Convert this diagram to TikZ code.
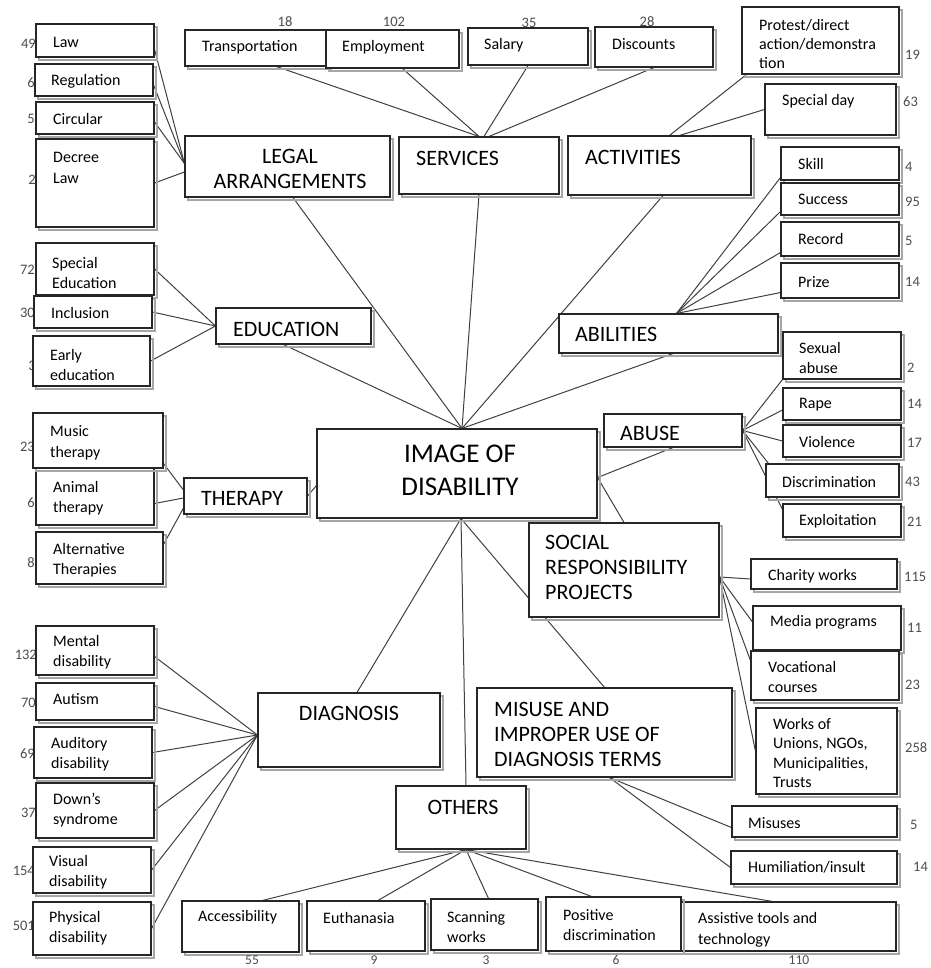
\documentclass[tikz,border=0pt]{standalone}
\usepackage{fontspec}
\setmainfont{Carlito}[Numbers=Lining]
\usetikzlibrary{fit,shadows}
\pgfdeclarelayer{background}
\pgfsetlayers{background,main}
\begin{document}
\begin{tikzpicture}[x=1pt,y=-1pt,
 box/.style={draw=black!85, line width=1.1pt, fill=white, inner sep=0pt,
   copy shadow={shadow xshift=3pt, shadow yshift=-3pt, draw=black!35, fill=none, line width=1.2pt}},
 txt/.style={inner sep=0pt, anchor=west, align=left, font=\fontsize{16}{20.5}\selectfont},
 big/.style={inner sep=0pt, anchor=west, align=left, font=\fontsize{22}{25}\selectfont},
 num/.style={inner sep=0pt, font=\fontsize{14.5}{16}\selectfont, text=black!70},
 lnum/.style={num, anchor=east},
 rnum/.style={num, anchor=west},
 bnum/.style={num, anchor=base, font=\fontsize{13.5}{15}\selectfont},
 link/.style={draw=black!75, line width=1pt}]
\useasboundingbox (0,0) rectangle (930,968);

% ---------- counts (drawn first, boxes may cover them) ----------
\node[lnum] (n-law) at (36,44) {49};
\node[lnum] (n-reg) at (35,83) {6};
\node[lnum] (n-circ) at (35,119) {5};
\node[lnum] (n-decree) at (36,180) {2};
\node[lnum] (n-specedu) at (35,270) {72};
\node[lnum] (n-incl) at (35,313) {30};
\node[lnum] (n-early) at (36,366) {3};
\node[lnum] (n-music) at (35,447) {23};
\node[lnum] (n-animal) at (35,503) {6};
\node[lnum] (n-alt) at (35,563) {8};
\node[lnum] (n-mental) at (37,655) {132};
\node[lnum] (n-autism) at (36,703) {70};
\node[lnum] (n-auditory) at (35,754) {69};
\node[lnum] (n-down) at (36,813) {37};
\node[lnum] (n-visual) at (35,871) {154};
\node[lnum] (n-physical) at (35,926) {501};
\node[rnum] (n-protest) at (905,55) {19};
\node[rnum] (n-specday) at (903,102) {63};
\node[rnum] (n-skill) at (905,167) {4};
\node[rnum] (n-success) at (905,202) {95};
\node[rnum] (n-record) at (905,241) {5};
\node[rnum] (n-prize) at (905,282) {14};
\node[rnum] (n-sexual) at (907,368) {2};
\node[rnum] (n-rape) at (907,404) {14};
\node[rnum] (n-violence) at (907,443) {17};
\node[rnum] (n-discrim) at (905,482) {43};
\node[rnum] (n-exploit) at (907,522) {21};
\node[rnum] (n-charity) at (904,577) {115};
\node[rnum] (n-media) at (907,628) {11};
\node[rnum] (n-voc) at (905,685) {23};
\node[rnum] (n-works) at (905,748) {258};
\node[rnum] (n-misuses) at (910,825) {5};
\node[rnum] (n-humil) at (913,867) {14};
\node[num] (n-trans) at (285,22) {18};
\node[num] (n-emp) at (394,22) {102};
\node[num] (n-salary) at (529,23) {35};
\node[num] (n-disc) at (647,22) {28};

% ---------- boxes ----------
\node[box, fit={(36,24) (154,57)}] (law) {};
\node[box, fit={(35,64) (153,96)}] (reg) {};
\node[box, fit={(36,102) (154,134)}] (circ) {};
\node[box, fit={(36,139) (154,227)}] (decree) {};
\node[box, fit={(185,136) (390,197)}] (legal) {};
\node[box, fit={(185,30) (328,66)}] (trans) {};
\node[box, fit={(326,30) (459,68)}] (emp) {};
\node[box, fit={(468,28) (588,65)}] (salary) {};
\node[box, fit={(595,27) (713,67)}] (disc) {};
\node[box, fit={(742,7) (899,74)}] (protest) {};
\node[box, fit={(765,84) (896,135)}] (specday) {};
\node[box, fit={(399,137) (559,194)}] (services) {};
\node[box, fit={(568,136) (751,195)}] (activ) {};
\node[box, fit={(781,147) (899,180)}] (skill) {};
\node[box, fit={(781,183) (899,215)}] (success) {};
\node[box, fit={(781,222) (899,256)}] (record) {};
\node[box, fit={(781,263) (899,298)}] (prize) {};
\node[box, fit={(559,314) (778,353)}] (abil) {};
\node[box, fit={(783,332) (901,379)}] (sexual) {};
\node[box, fit={(783,388) (901,420)}] (rape) {};
\node[box, fit={(783,425) (901,457)}] (violence) {};
\node[box, fit={(766,464) (899,497)}] (discrim) {};
\node[box, fit={(783,504) (901,537)}] (exploit) {};
\node[box, fit={(604,414) (742,447)}] (abuse) {};
\node[box, fit={(317,429) (597,518)}] (image) {};
\node[box, fit={(529,523) (719,617)}] (social) {};
\node[box, fit={(751,559) (897,589)}] (charity) {};
\node[box, fit={(753,606) (901,650)}] (media) {};
\node[box, fit={(751,651) (899,700)}] (voc) {};
\node[box, fit={(756,708) (897,794)}] (works) {};
\node[box, fit={(477,688) (732,777)}] (misuse) {};
\node[box, fit={(732,806) (897,837)}] (misuses) {};
\node[box, fit={(731,851) (897,884)}] (humil) {};
\node[box, fit={(396,786) (526,849)}] (others) {};
\node[box, fit={(258,693) (440,767)}] (diag) {};
\node[box, fit={(36,626) (154,675)}] (mental) {};
\node[box, fit={(36,683) (154,720)}] (autism) {};
\node[box, fit={(34,727) (152,778)}] (auditory) {};
\node[box, fit={(36,783) (154,838)}] (down) {};
\node[box, fit={(33,847) (151,893)}] (visual) {};
\node[box, fit={(33,902) (151,955)}] (physical) {};
\node[box, fit={(182,901) (299,952)}] (access) {};
\node[box, fit={(307,901) (425,951)}] (euth) {};
\node[box, fit={(431,899) (538,950)}] (scan) {};
\node[box, fit={(681,902) (896,951)}] (assist) {};
\node[box, fit={(546,897) (681,951)}] (posit) {};
\node[box, fit={(36,243) (154,295)}] (specedu) {};
\node[box, fit={(34,296) (152,328)}] (incl) {};
\node[box, fit={(33,336) (150,386)}] (early) {};
\node[box, fit={(216,308) (371,344)}] (educ) {};
\node[box, fit={(36,468) (154,525)}] (animal) {};
\node[box, fit={(33,413) (163,468)}] (music) {};
\node[box, fit={(36,532) (163,584)}] (alt) {};
\node[box, fit={(184,478) (307,514)}] (therapy) {};

% ---------- bottom counts ----------
\node[bnum] (n-access) at (252,964.5) {55};
\node[bnum] (n-euth) at (374,964.5) {9};
\node[bnum] (n-scan) at (486,964.5) {3};
\node[bnum] (n-posit) at (616,964.5) {6};
\node[bnum] (n-assist) at (799,964.5) {110};

% ---------- texts ----------
\node[txt] (law-t) at (53,42) {Law};
\node[txt] (reg-t) at (51,81) {Regulation};
\node[txt] (circ-t) at (53,119) {Circular};
\node[txt] (decree-t) at (53,168) {Decree\\Law};
\node[txt] (trans-t) at (202,47) {Transportation};
\node[txt] (emp-t) at (342,47) {Employment};
\node[txt] (salary-t) at (484,45) {Salary};
\node[txt] (disc-t) at (612,44) {Discounts};
\node[txt, font=\fontsize{16}{19}\selectfont] (protest-t) at (759,44) {Protest/direct\\action/demonstra\\tion};
\node[txt] (specday-t) at (782,101) {Special day};
\node[big, anchor=center, align=center] (legal-t) at (290,169) {LEGAL\\ARRANGEMENTS};
\node[big] (services-t) at (416,158) {SERVICES};
\node[big] (activ-t) at (585,157) {ACTIVITIES};
\node[txt] (skill-t) at (798,164) {Skill};
\node[txt] (success-t) at (798,199) {Success};
\node[txt] (record-t) at (798,239) {Record};
\node[txt] (prize-t) at (798,282) {Prize};
\node[big] (abil-t) at (575,334) {ABILITIES};
\node[txt] (sexual-t) at (799,358) {Sexual\\abuse};
\node[txt] (rape-t) at (799,405) {Rape};
\node[txt] (violence-t) at (799,442) {Violence};
\node[txt] (discrim-t) at (782,482) {Discrimination};
\node[txt] (exploit-t) at (799,521) {Exploitation};
\node[big] (abuse-t) at (620,433) {ABUSE};
\node[inner sep=0pt, align=center, font=\fontsize{27}{33}\selectfont] (image-t) at (460,470) {IMAGE OF\\DISABILITY};
\node[big] (social-t) at (545,567) {SOCIAL\\RESPONSIBILITY\\PROJECTS};
\node[txt] (charity-t) at (768,576) {Charity works};
\node[txt] (media-t) at (770,622) {Media programs};
\node[txt] (voc-t) at (768,677) {Vocational\\courses};
\node[txt, font=\fontsize{16}{19.5}\selectfont] (works-t) at (773,753) {Works of\\Unions, NGOs,\\Municipalities,\\Trusts};
\node[big] (misuse-t) at (494,734) {MISUSE AND\\IMPROPER USE OF\\DIAGNOSIS TERMS};
\node[txt] (misuses-t) at (748,823) {Misuses};
\node[txt] (humil-t) at (748,867) {Humiliation/insult};
\node[big, anchor=center] (others-t) at (463,807) {OTHERS};
\node[big, anchor=center] (diag-t) at (349,713) {DIAGNOSIS};
\node[txt] (access-t) at (198,917) {Accessibility};
\node[txt] (euth-t) at (323,918) {Euthanasia};
\node[txt] (scan-t) at (447,927) {Scanning\\works};
\node[txt] (posit-t) at (563,925) {Positive\\discrimination};
\node[txt] (assist-t) at (698,930) {Assistive tools and\\technology};
\node[txt] (mental-t) at (53,652) {Mental\\disability};
\node[txt] (autism-t) at (53,699) {Autism};
\node[txt] (auditory-t) at (51,754) {Auditory\\disability};
\node[txt] (down-t) at (53,810) {Down’s\\syndrome};
\node[txt] (visual-t) at (49,872) {Visual\\disability};
\node[txt] (physical-t) at (49,928) {Physical\\disability};
\node[txt] (specedu-t) at (52,273) {Special\\Education};
\node[txt] (incl-t) at (51,313) {Inclusion};
\node[txt] (early-t) at (50,365) {Early\\education};
\node[big] (educ-t) at (233,329) {EDUCATION};
\node[txt] (music-t) at (50,443) {Music\\therapy};
\node[txt] (animal-t) at (53,498) {Animal\\therapy};
\node[txt] (alt-t) at (53,560) {Alternative\\Therapies};
\node[big] (therapy-t) at (201,498) {THERAPY};

% ---------- connectors ----------
\begin{pgfonlayer}{background}
% legal
\draw[link] ([yshift=-9pt]law.east) -- ([yshift=3pt]legal.west);
\draw[link] ([yshift=-5pt]reg.east) -- ([yshift=3pt]legal.west);
\draw[link] ([yshift=-4pt]circ.east) -- ([yshift=3pt]legal.west);
\draw[link] (decree.east) -- ([yshift=-5.5pt]legal.west);
% services
\draw[link] ([xshift=20pt]trans.south) -- (services.north);
\draw[link] ([xshift=10pt]emp.south) -- (services.north);
\draw[link] (salary.south) -- ([xshift=5pt]services.north);
\draw[link] (disc.south) -- ([xshift=10pt]services.north);
% activities
\draw[link] ([xshift=5pt]protest.south west) -- ([xshift=10pt]activ.north);
\draw[link] (specday.west) -- ([xshift=20pt]activ.north);
% abilities
\draw[link] ([yshift=3pt]skill.south west) -- ([xshift=8pt]abil.north);
\draw[link] ([yshift=4pt]success.south west) -- ([xshift=8pt]abil.north);
\draw[link] ([yshift=4pt]record.south west) -- ([xshift=8pt]abil.north);
\draw[link] ([yshift=6pt]prize.south west) -- ([xshift=8pt]abil.north);
% abuse
\draw[link] (abuse.east) -- (sexual.south west);
\draw[link] (abuse.east) -- ([yshift=-6pt]rape.west);
\draw[link] (abuse.east) -- (violence.west);
\draw[link] (abuse.east) -- ([xshift=3pt]discrim.north west);
\draw[link] (abuse.east) -- ([yshift=-6pt]exploit.north west);
% image of disability
\draw[link] ([xshift=5.5pt]legal.south) -- ([xshift=5pt]image.north);
\draw[link] (services.south) -- ([xshift=5pt]image.north);
\draw[link] ([xshift=3.5pt]activ.south) -- ([xshift=5pt]image.north);
\draw[link] ([xshift=4.5pt]abil.south) -- ([xshift=5pt]image.north);
\draw[link] ([xshift=-10pt]educ.south) -- ([xshift=5pt]image.north);
\draw[link] ([yshift=-4pt]image.east) -- (abuse.south);
\draw[link] ([yshift=-4pt]image.east) -- (social.north);
\draw[link] (therapy.east) -- ([yshift=-12pt]image.west);
\draw[link] ([xshift=4pt]image.south) -- ([xshift=8pt]diag.north);
\draw[link] ([xshift=4pt]image.south) -- ([xshift=5pt]others.north);
\draw[link] ([xshift=4pt]image.south) -- (misuse.north);
% education
\draw[link] (specedu.east) -- (educ.west);
\draw[link] (incl.east) -- (educ.west);
\draw[link] (early.east) -- (educ.west);
% therapy
\draw[link] ([yshift=5pt]music.south east) -- ([yshift=6pt]therapy.west);
\draw[link] ([yshift=-7pt]animal.east) -- ([yshift=-2pt]therapy.west);
\draw[link] ([yshift=-13pt]alt.north east) -- ([yshift=-12pt]therapy.west);
% diagnosis
\draw[link] ([yshift=-6pt]mental.east) -- ([yshift=-5pt]diag.west);
\draw[link] ([yshift=-5pt]autism.east) -- ([yshift=-5pt]diag.west);
\draw[link] (auditory.east) -- ([yshift=-5pt]diag.west);
\draw[link] (down.east) -- ([yshift=-5pt]diag.west);
\draw[link] (visual.east) -- ([yshift=-5pt]diag.west);
\draw[link] (physical.east) -- ([yshift=-5pt]diag.west);
% others
\draw[link] ([xshift=5pt]others.south) -- ([xshift=22pt]access.north);
\draw[link] ([xshift=5pt]others.south) -- ([xshift=12pt]euth.north);
\draw[link] ([xshift=5pt]others.south) -- ([xshift=4pt]scan.north);
\draw[link] ([xshift=5pt]others.south) -- ([xshift=-22pt]posit.north);
\draw[link] ([xshift=5pt]others.south) -- ([xshift=-16pt]assist.north);
% misuse
\draw[link] ([xshift=5pt]misuse.south) -- ([yshift=-6pt]misuses.west);
\draw[link] ([xshift=5pt]misuse.south) -- (humil.west);
% social responsibility
\draw[link] ([yshift=-7pt]social.east) -- ([yshift=-5pt]charity.west);
\draw[link] ([yshift=-7pt]social.east) -- ([yshift=6pt]media.west);
\draw[link] ([yshift=-7pt]social.east) -- ([yshift=15pt]voc.west);
\draw[link] ([yshift=-7pt]social.east) -- (works.west);
\end{pgfonlayer}
\end{tikzpicture}
\end{document}
